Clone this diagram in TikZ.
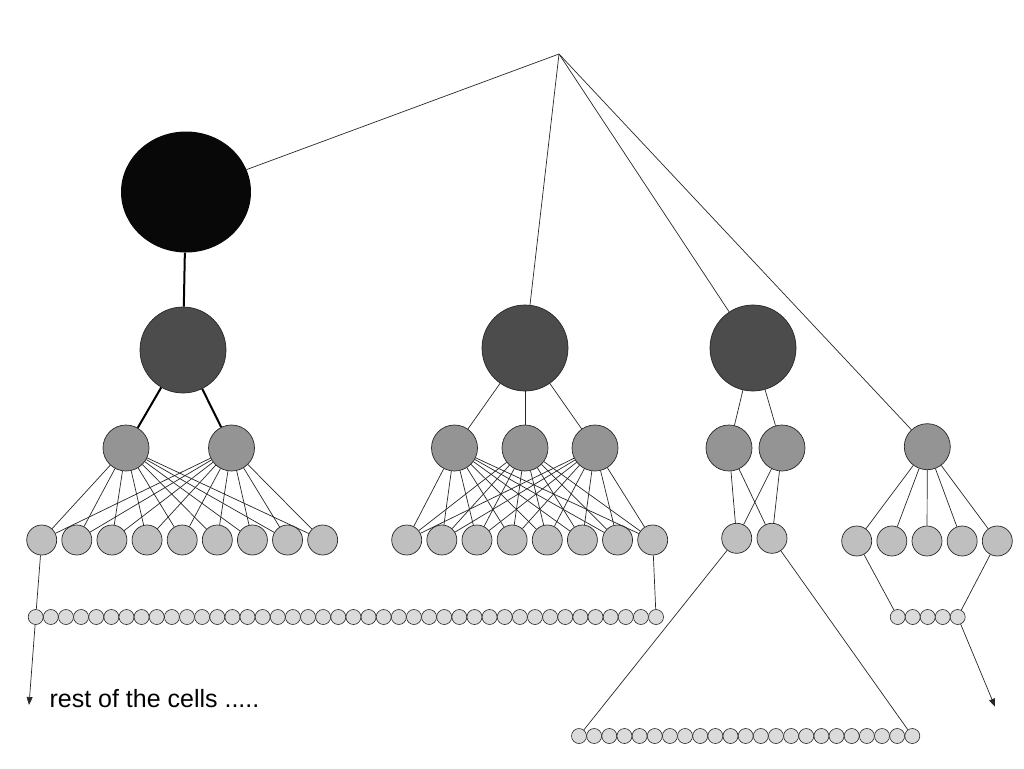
\documentclass[tikz,border=0pt]{standalone}
\usepackage{fontspec}
\setmainfont{Liberation Sans}
\usetikzlibrary{arrows.meta,shapes.geometric}

\tikzset{
	rootcell/.style={ellipse, fill=black!97, minimum width=130pt, minimum height=121pt, inner sep=0pt},
	big/.style={circle, draw=black!85, fill=black!70, minimum size=86pt, inner sep=0pt, line width=0.7pt},
	mid/.style={circle, draw=black!85, fill=black!42, minimum size=46pt, inner sep=0pt, line width=0.7pt},
	leaf/.style={circle, draw=black!85, fill=black!25, minimum size=30pt, inner sep=0pt, line width=0.7pt},
	cell/.style={circle, draw=black!85, fill=black!14, minimum size=15pt, inner sep=0pt, line width=0.6pt},
	wire/.style={draw=black!85, line width=0.7pt},
	fat/.style={draw=black, line width=2pt},
	tip/.style={-{Triangle[length=8pt,width=6pt]}}
}

\begin{document}
\begin{tikzpicture}[x=1pt,y=-1pt]
	\useasboundingbox (0,0) rectangle (1024,768);
	\coordinate (top) at (559,54);
	\node[rootcell] (root) at (186,192) {};
	\node[big] (a) at (183,350) {};
	\node[big] (b) at (525,348) {};
	\node[big] (c) at (753,348) {};
	\node[mid] (a1) at (126,448) {};
	\node[mid] (a2) at (231.5,448) {};
	\node[mid] (b1) at (454.5,448) {};
	\node[mid] (b2) at (525,448) {};
	\node[mid] (b3) at (595,448) {};
	\node[mid] (c1) at (729,448) {};
	\node[mid] (c2) at (782,448) {};
	\node[mid] (d) at (927.3,446.7) {};
	% leaf rows
	\foreach \i in {1,...,9} \node[leaf] (la\i) at ({41.7+35.12*(\i-1)},540) {};
	\foreach \i in {1,...,8} \node[leaf] (lb\i) at ({406.7+35.14*(\i-1)},540) {};
	\node[leaf] (lc1) at (736.7,538.3) {};
	\node[leaf] (lc2) at (772,538.3) {};
	\foreach \i in {1,...,5} \node[leaf] (ld\i) at ({856.7+35.15*(\i-1)},541) {};
	% cell rows
	\foreach \i in {1,...,42} \node[cell] (p\i) at ({35.7+15.13*(\i-1)},617) {};
	\foreach \i in {1,...,23} \node[cell] (q\i) at ({579+15.15*(\i-1)},736) {};
	\foreach \i in {1,...,5} \node[cell] (s\i) at ({897.7+15*(\i-1)},617) {};
	\coordinate (endL) at (29,705);
	\coordinate (endR) at (995,706.7);
	\node[anchor=base west, font=\fontsize{25}{30}\selectfont] (note) at (46,707) {rest of the cells .....};
	% links
	\draw[wire] (top) -- (root);
	\draw[wire] (top) -- (b);
	\draw[wire] (top) -- (c);
	\draw[wire] (top) -- (d);
	\draw[fat] (root) -- (a);
	\draw[fat] (a) -- (a1);
	\draw[fat] (a) -- (a2);
	\draw[wire] (b) -- (b1);
	\draw[wire] (b) -- (b2);
	\draw[wire] (b) -- (b3);
	\draw[wire] (c) -- (c1);
	\draw[wire] (c) -- (c2);
	\foreach \j in {1,...,9} {
		\draw[wire] (a1) -- (la\j);
		\draw[wire] (a2) -- (la\j);
	}
	\foreach \j in {1,...,8}
		\foreach \k in {1,2,3} \draw[wire] (b\k) -- (lb\j);
	\foreach \j in {1,2}
		\foreach \k in {1,2} \draw[wire] (c\k) -- (lc\j);
	\foreach \j in {1,...,5} \draw[wire] (d) -- (ld\j);
	\draw[wire] (la1) -- (p1);
	\draw[wire] (lb8) -- (p42);
	\draw[wire] (lc1) -- (q1);
	\draw[wire] (lc2) -- (q23);
	\draw[wire] (ld1) -- (s1);
	\draw[wire] (ld5) -- (s5);
	\draw[wire, tip] (p1) -- (endL);
	\draw[wire, tip] (s5) -- (endR);
\end{tikzpicture}
\end{document}
